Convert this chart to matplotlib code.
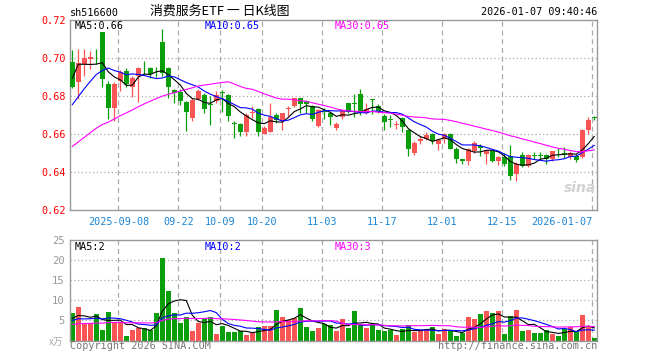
import numpy as np
import pandas as pd
import matplotlib.pyplot as plt

# daily K-line data, 2025-08-27 .. 2026-01-07 (88 trading days)
open_ = [0.698, 0.6875, 0.6968, 0.6995, 0.7012, 0.7137, 0.6865, 0.6735, 0.6881, 0.6932,
         0.6845, 0.6905, 0.6948, 0.6948, 0.6937, 0.7085, 0.695, 0.683, 0.682, 0.6767,
         0.6685, 0.6785, 0.6805, 0.6755, 0.6775, 0.6818, 0.6805, 0.6655, 0.6653, 0.6612,
         0.6712, 0.6732, 0.660, 0.6612, 0.6698, 0.667, 0.673, 0.6746, 0.6787, 0.6775,
         0.6749, 0.6642, 0.6722, 0.671, 0.6632, 0.669, 0.6762, 0.6763, 0.681, 0.671,
         0.678, 0.675, 0.6696, 0.6677, 0.6647, 0.6684, 0.6621, 0.6498, 0.6562, 0.6574,
         0.66, 0.6545, 0.6574, 0.66, 0.652, 0.6468, 0.646, 0.651, 0.6535, 0.6495,
         0.651, 0.646, 0.648, 0.6486, 0.639, 0.6491, 0.6433, 0.6488, 0.6488, 0.6491,
         0.6468, 0.651, 0.6497, 0.6477, 0.6486, 0.648, 0.6621, 0.6685]
high = [0.704, 0.7047, 0.7047, 0.7035, 0.705, 0.7138, 0.688, 0.6875, 0.6935, 0.6945,
        0.6905, 0.6955, 0.6985, 0.6955, 0.6955, 0.7155, 0.6955, 0.6835, 0.6835, 0.6775,
        0.679, 0.6835, 0.6815, 0.680, 0.6825, 0.683, 0.681, 0.667, 0.666, 0.671,
        0.675, 0.6735, 0.664, 0.6763, 0.671, 0.671, 0.6747, 0.6792, 0.679, 0.678,
        0.6755, 0.673, 0.6735, 0.6715, 0.6665, 0.6725, 0.6765, 0.681, 0.6835, 0.6762,
        0.6782, 0.676, 0.6705, 0.670, 0.667, 0.669, 0.6625, 0.6565, 0.6591, 0.661,
        0.6605, 0.6575, 0.6605, 0.6605, 0.653, 0.647, 0.6525, 0.6565, 0.6545, 0.6515,
        0.6512, 0.6485, 0.650, 0.6544, 0.6455, 0.6505, 0.6495, 0.6505, 0.6507, 0.6495,
        0.6512, 0.6526, 0.653, 0.6509, 0.6495, 0.6625, 0.669, 0.6695]
low = [0.684, 0.6785, 0.6905, 0.694, 0.697, 0.6847, 0.6677, 0.6668, 0.6828, 0.685,
       0.6795, 0.677, 0.6915, 0.6895, 0.690, 0.6905, 0.679, 0.6765, 0.6755, 0.6617,
       0.667, 0.678, 0.671, 0.6645, 0.6762, 0.6715, 0.667, 0.658, 0.659, 0.6588,
       0.6683, 0.659, 0.6598, 0.6608, 0.666, 0.662, 0.6694, 0.6742, 0.671, 0.671,
       0.667, 0.6635, 0.668, 0.665, 0.662, 0.668, 0.671, 0.669, 0.670, 0.6705,
       0.6705, 0.671, 0.662, 0.6635, 0.6626, 0.661, 0.6486, 0.649, 0.655, 0.6568,
       0.6547, 0.6516, 0.6555, 0.652, 0.645, 0.644, 0.6439, 0.6498, 0.6486, 0.6442,
       0.6455, 0.6437, 0.6433, 0.6358, 0.6355, 0.6425, 0.6425, 0.6468, 0.6468, 0.6442,
       0.646, 0.6477, 0.6475, 0.647, 0.6455, 0.6475, 0.660, 0.6672]
close = [0.685, 0.6975, 0.700, 0.7005, 0.7008, 0.689, 0.6735, 0.6865, 0.6928, 0.6862,
         0.6895, 0.6948, 0.6945, 0.6915, 0.6935, 0.692, 0.6845, 0.6815, 0.6775, 0.6715,
         0.678, 0.6828, 0.6732, 0.6752, 0.6805, 0.6815, 0.6697, 0.6652, 0.6612, 0.670,
         0.6716, 0.6612, 0.6632, 0.6688, 0.6672, 0.6708, 0.6735, 0.6787, 0.6757, 0.676,
         0.6677, 0.6726, 0.6718, 0.669, 0.6653, 0.672, 0.6714, 0.676, 0.6716, 0.6732,
         0.6778, 0.6723, 0.6662, 0.6673, 0.665, 0.6636, 0.6521, 0.6551, 0.6574, 0.6597,
         0.6562, 0.6568, 0.660, 0.6522, 0.6469, 0.646, 0.6521, 0.6551, 0.6528, 0.6512,
         0.646, 0.6481, 0.6443, 0.6381, 0.6442, 0.6433, 0.6491, 0.6485, 0.6486, 0.6468,
         0.6509, 0.6508, 0.6494, 0.6498, 0.6461, 0.662, 0.6674, 0.6683]
volume = [6.8, 8.3, 4.4, 4.4, 6.5, 2.5, 7.1, 4.6, 4.6, 1.1,
          2.5, 3.1, 3.2, 2.7, 6.8, 20.6, 12.25, 6.8, 4.3, 5.8,
          2.25, 4.4, 5.6, 5.8, 1.6, 3.6, 2.1, 2.1, 2.25, 1.4,
          1.9, 3.3, 3.6, 3.6, 7.5, 5.8, 5.0, 5.7, 8.1, 3.3,
          2.25, 3.1, 4.1, 3.75, 2.25, 5.25, 3.1, 7.25, 3.9, 3.1,
          3.75, 2.5, 2.25, 2.5, 1.25, 2.75, 3.75, 2.1, 2.5, 2.5,
          3.3, 1.5, 2.9, 2.5, 1.0, 1.9, 5.8, 5.25, 6.5, 7.25,
          6.8, 7.25, 1.5, 6.1, 7.5, 2.25, 2.5, 1.8, 1.8, 2.6,
          1.5, 1.1, 2.9, 3.3, 2.25, 6.25, 3.3, 0.6]

# closes / volumes of the 29 sessions before the window (only feed the moving averages)
prev_close = [0.625, 0.627, 0.628, 0.630, 0.630, 0.636, 0.638, 0.640, 0.642, 0.643,
              0.644, 0.648, 0.650, 0.652, 0.654, 0.655, 0.656, 0.650, 0.648, 0.652,
              0.655, 0.658, 0.662, 0.665, 0.668, 0.660, 0.700, 0.701, 0.700]
prev_volume = [3.2, 2.8, 3.6, 4.1, 3.0, 2.6, 3.9, 3.4, 4.4, 3.1,
               2.9, 3.8, 3.5, 4.2, 3.3, 3.7, 3.0, 4.0, 3.6, 3.9,
               4.2, 4.8, 4.0, 5.1, 4.4, 4.6, 5.0, 6.1, 5.0]

tick_idx = [8, 18, 25, 32, 42, 52, 62, 72, 87]
tick_labels = ["2025-09-08", "09-22", "10-09", "10-20", "11-03",
               "11-17", "12-01", "12-15", "2026-01-07"]

RED = '#fa5555'
GREEN = '#0a9e0a'
MA_COLORS = {5: 'black', 10: '#0000ff', 30: '#ff00ff'}
MONO = 'DejaVu Sans Mono'
CJK = ['Noto Sans CJK SC', 'DejaVu Sans']
GRID = '#aaaaaa'


def moving_average(prev, values, n):
    full = pd.Series(list(prev) + list(values))
    return full.rolling(n).mean().values[len(prev):]


def px(fig, x, y, s, **kw):
    fig.text(x / 660, 1 - y / 360, s, **kw)


def style_axes(ax):
    for sp in ax.spines.values():
        sp.set_color('#999999')
        sp.set_linewidth(1)
    ax.set_xlim(-0.38, 87.45)
    for t in tick_idx:
        ax.axvline(t - 0.3, color=GRID, lw=0.9, ls=(0, (4, 3)), zorder=0)


fig = plt.figure(figsize=(6.6, 3.6), dpi=100)
ax = fig.add_axes([70 / 660, 1 - 210 / 360, 527 / 660, 190 / 360])
axv = fig.add_axes([70 / 660, 1 - 340.5 / 360, 527 / 660, 100.5 / 360])

x = np.arange(len(close))
o, h, l, c = map(np.array, (open_, high, low, close))
colors = [RED if ci >= oi else GREEN for oi, ci in zip(o, c)]

# candles
style_axes(ax)
ax.vlines(x, l, h, colors=colors, lw=0.9, zorder=2)
body = np.maximum(np.abs(c - o), 0.0004)
ax.bar(x, body, bottom=np.minimum(o, c), width=0.8, color=colors, zorder=3)
for n, col in MA_COLORS.items():
    ax.plot(x, moving_average(prev_close, close, n), color=col, lw=0.8, zorder=4)

ax.set_ylim(0.62, 0.72)
ax.set_yticks([0.62, 0.64, 0.66, 0.68, 0.70, 0.72])
ax.set_yticklabels(["0.62", "0.64", "0.66", "0.68", "0.70", "0.72"],
                   color='#ff0000', fontfamily=MONO, fontsize=7.3)
for yv in [0.64, 0.66, 0.68, 0.70]:
    ax.axhline(yv, color=GRID, lw=0.9, ls=(0, (1, 2)), zorder=0)
ax.set_xticks([t - 0.3 for t in tick_idx])
ax.set_xticklabels(tick_labels, color='#1a86d8', fontfamily=MONO, fontsize=7.3)
ax.get_xticklabels()[-1].set_ha('right')
ax.tick_params(length=0, pad=3)
ax.tick_params(axis='x', pad=5)

# watermark
ax.text(84.6, 0.6315, "sina", color='#d2d2d2', fontsize=10, fontstyle='italic',
        fontweight='bold', ha='center', va='center', zorder=1)

# volume
style_axes(axv)
axv.bar(x, volume, width=0.82, color=colors, zorder=2)
for n, col in MA_COLORS.items():
    axv.plot(x, moving_average(prev_volume, volume, n), color=col, lw=0.8, zorder=4)
axv.set_ylim(0, 25)
axv.set_yticks([5, 10, 15, 20, 25])
axv.set_yticklabels(["5", "10", "15", "20", "25"], color='#999999',
                    fontfamily=MONO, fontsize=7.6)
for yv in [5, 10, 15, 20]:
    axv.axhline(yv, color=GRID, lw=0.9, ls=(0, (1, 2)), zorder=0)
axv.set_xticks([])
axv.tick_params(length=0, pad=4)

# header and labels
px(fig, 70, 13, "sh516600", fontfamily=MONO, fontsize=7.3, va='center')
px(fig, 150, 11, "消费服务ETF 一 日K线图", fontfamily=CJK, fontsize=9.3, va='center')
px(fig, 597, 12, "2026-01-07 09:40:46", fontfamily=MONO, fontsize=7.3,
   va='center', ha='right')
px(fig, 75, 26, "MA5:0.66", color='black', fontfamily=MONO, fontsize=7.3, va='center')
px(fig, 205, 26, "MA10:0.65", color='#0000ff', fontfamily=MONO, fontsize=7.3, va='center')
px(fig, 335, 26, "MA30:0.65", color='#ff00ff', fontfamily=MONO, fontsize=7.3, va='center')
px(fig, 75, 247, "MA5:2", color='black', fontfamily=MONO, fontsize=7.3, va='center')
px(fig, 205, 247, "MA10:2", color='#0000ff', fontfamily=MONO, fontsize=7.3, va='center')
px(fig, 335, 247, "MA30:3", color='#ff00ff', fontfamily=MONO, fontsize=7.3, va='center')
px(fig, 49, 342, "x万", color='#aaaaaa', fontfamily=CJK, fontsize=7, va='center')
px(fig, 70, 346, "Copyright 2026 SINA.COM", color='#777777', fontfamily=MONO,
   fontsize=7.3, va='center')
px(fig, 597, 346, "http://finance.sina.com.cn", color='#777777', fontfamily=MONO,
   fontsize=7.3, va='center', ha='right')

fig.savefig("out.png", dpi=100, facecolor='white')
